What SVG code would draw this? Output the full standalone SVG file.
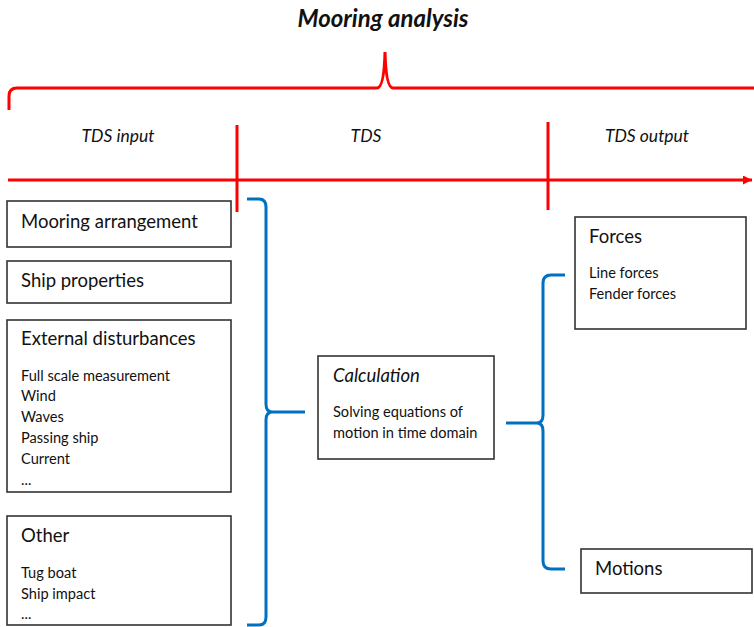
<svg xmlns="http://www.w3.org/2000/svg" width="754" height="627" viewBox="0 0 754 627">
  <defs>
    <marker id="arrowRed" markerWidth="9" markerHeight="9" refX="9" refY="4.5" orient="auto" markerUnits="userSpaceOnUse">
      <path d="M0,0 L9,4.5 L0,9 Z" fill="#ff0000"/>
    </marker>
  </defs>
  <style>
    text { font-family: Lato, "Open Sans", "Liberation Sans", sans-serif; fill: #111; }
    .title { font-size: 24px; font-weight: bold; font-style: italic; }
    .phase { font-size: 17.5px; font-style: italic; }
    .head { font-size: 18.5px; }
    .item { font-size: 14.6px; }
    .box { fill: #fff; stroke: #333; stroke-width: 1.6; }
    .red { fill: none; stroke: #ff0000; stroke-width: 3; }
    .blue { fill: none; stroke: #0070c0; stroke-width: 3; }
  </style>
  <rect width="754" height="627" fill="#fff"/>

  <!-- heading and time axis -->
  <g id="header">
    <text class="title" x="383" y="27" text-anchor="middle">Mooring analysis</text>
    <path class="red" d="M9,110 L9,96 Q9,88 17,88 L377,88 Q384,88 385,52 Q386,88 393,88 L754,88"/>
    <text class="phase" x="118" y="142" text-anchor="middle">TDS input</text>
    <text class="phase" x="366" y="142" text-anchor="middle">TDS</text>
    <text class="phase" x="647" y="142" text-anchor="middle">TDS output</text>
    <line class="red" x1="8" y1="180" x2="752" y2="180" marker-end="url(#arrowRed)"/>
    <line class="red" x1="237" y1="125" x2="237" y2="212"/>
    <line class="red" x1="548" y1="122" x2="548" y2="210"/>
  </g>

  <!-- input nodes -->
  <g id="mooring-arrangement">
    <rect class="box" x="7" y="201" width="224" height="46"/>
    <text class="head" x="21" y="228">Mooring arrangement</text>
  </g>
  <g id="ship-properties">
    <rect class="box" x="7" y="261" width="224" height="42"/>
    <text class="head" x="21" y="287">Ship properties</text>
  </g>
  <g id="external-disturbances">
    <rect class="box" x="7" y="320" width="224" height="172"/>
    <text class="head" x="21" y="345">External disturbances</text>
    <text class="item" x="21" y="381">Full scale measurement</text>
    <text class="item" x="21" y="401">Wind</text>
    <text class="item" x="21" y="422">Waves</text>
    <text class="item" x="21" y="443">Passing ship</text>
    <text class="item" x="21" y="464">Current</text>
    <text class="item" x="21" y="485">...</text>
  </g>
  <g id="other">
    <rect class="box" x="7" y="516" width="224" height="109"/>
    <text class="head" x="21" y="542">Other</text>
    <text class="item" x="21" y="578">Tug boat</text>
    <text class="item" x="21" y="599">Ship impact</text>
    <text class="item" x="21" y="619">...</text>
  </g>

  <!-- calculation node -->
  <g id="calculation">
    <rect class="box" x="318" y="356" width="176" height="103"/>
    <text class="head" x="333" y="382" font-style="italic">Calculation</text>
    <text class="item" x="333" y="417">Solving equations of</text>
    <text class="item" x="333" y="438">motion in time domain</text>
  </g>

  <!-- output nodes -->
  <g id="forces">
    <rect class="box" x="575" y="217" width="171" height="112"/>
    <text class="head" x="589" y="243">Forces</text>
    <text class="item" x="589" y="278">Line forces</text>
    <text class="item" x="589" y="299">Fender forces</text>
  </g>
  <g id="motions">
    <rect class="box" x="581" y="549" width="171" height="44"/>
    <text class="head" x="595" y="575">Motions</text>
  </g>

  <!-- braces linking the stages -->
  <g id="connectors">
    <path class="blue" d="M247,199 L259,199 Q266,199 266,207 L266,404 Q266,412 272,412 L305,412 M272,412 Q266,412 266,420 L266,617 Q266,625 259,625 L247,625"/>
    <path class="blue" d="M565,275 L551,275 Q543,275 543,283 L543,415 Q543,423 537,423 L506,423 M537,423 Q543,423 543,431 L543,561 Q543,569 551,569 L565,569"/>
  </g>
</svg>
